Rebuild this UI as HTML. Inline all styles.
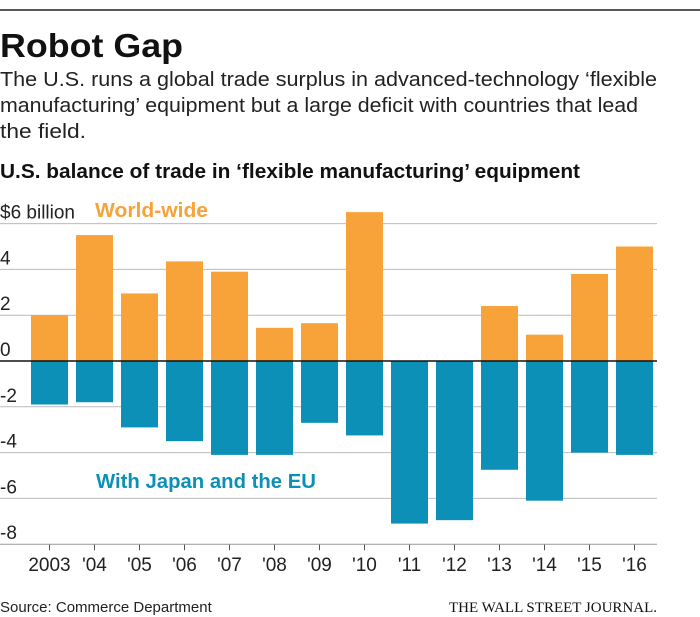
<!DOCTYPE html>
<html><head><meta charset="utf-8"><style>
body{margin:0;background:#fff;font-family:"Liberation Sans",sans-serif;}
#wrap{position:relative;width:700px;height:617px;overflow:hidden;}
</style></head><body>
<div id="wrap">
<svg id="svg" width="700" height="617" xmlns="http://www.w3.org/2000/svg">
<line x1="0" y1="10" x2="700" y2="10" stroke="#222" stroke-width="1.5"/>
<text x="0" y="57" font-size="33" font-weight="bold" fill="#111" textLength="183" lengthAdjust="spacingAndGlyphs">Robot Gap</text>
<text font-size="20" fill="#222"><tspan x="0" y="86" textLength="657" lengthAdjust="spacingAndGlyphs">The U.S. runs a global trade surplus in advanced-technology ‘flexible</tspan><tspan x="0" y="112" textLength="638" lengthAdjust="spacingAndGlyphs">manufacturing’ equipment but a large deficit with countries that lead</tspan><tspan x="0" y="138" textLength="86" lengthAdjust="spacingAndGlyphs">the field.</tspan></text>
<text x="0" y="178" font-size="20" font-weight="bold" fill="#111" textLength="580" lengthAdjust="spacingAndGlyphs">U.S. balance of trade in ‘flexible manufacturing’ equipment</text>
<g id="grid"></g><g id="bars"></g><g id="axis"></g>
<text x="95" y="217" font-size="20" font-weight="bold" fill="#f7a33a" textLength="113" lengthAdjust="spacingAndGlyphs">World-wide</text>
<text x="96" y="488" font-size="20" font-weight="bold" fill="#0d90b7" textLength="220" lengthAdjust="spacingAndGlyphs">With Japan and the EU</text>
<text x="0" y="612" font-size="15" fill="#222">Source: Commerce Department</text>
<text x="657" y="612" font-size="15" font-family="Liberation Serif,serif" fill="#111" text-anchor="end">THE WALL STREET JOURNAL.</text>
</svg></div>
<script>
const categories=["2003","'04","'05","'06","'07","'08","'09","'10","'11","'12","'13","'14","'15","'16"];
const worldWide=[2.0,5.5,2.95,4.35,3.9,1.45,1.65,6.5,0,0,2.4,1.15,3.8,5.0];
const japanEU=[-1.9,-1.8,-2.9,-3.5,-4.1,-4.1,-2.7,-3.25,-7.1,-6.95,-4.75,-6.1,-4.0,-4.1];
const yTicks=[6,4,2,0,-2,-4,-6,-8];
const yTickLabels=["$6 billion","4","2","0","-2","-4","-6","-8"];
const NS="http://www.w3.org/2000/svg";
const y=v=>361-v*22.9;
const x=i=>31+i*45;
const BW=37;
function mk(tag,attrs,parent){const e=document.createElementNS(NS,tag);for(const k in attrs)e.setAttribute(k,attrs[k]);parent.appendChild(e);return e;}
const grid=document.getElementById('grid'),bars=document.getElementById('bars'),axis=document.getElementById('axis');
yTicks.forEach((t,i)=>{
 if(t!==0&&t!==-8){const l=mk('line',{x1:0,x2:657,y1:y(t),y2:y(t),stroke:'#bbb','stroke-width':1},grid);
 
 }
 const tx=mk('text',{x:0,y:y(t)-5,'font-size':19,fill:'#222'},grid);tx.textContent=yTickLabels[i];
 
 
});
categories.forEach((c,i)=>{
 const h1=Math.abs(y(worldWide[i])-y(0));
 const r1=mk('rect',{x:x(i),y:Math.min(y(worldWide[i]),y(0)),width:BW,height:h1,fill:'#f7a33a'},bars);
 
 
 const h2=Math.abs(y(japanEU[i])-y(0));
 const r2=mk('rect',{x:x(i),y:y(0),width:BW,height:h2,fill:'#0d90b7'},bars);
 
 
 const tk=mk('line',{x1:x(i)+BW/2,x2:x(i)+BW/2,y1:y(-8),y2:y(-8)+6,stroke:'#555','stroke-width':1},axis);
 
 
 const lb=mk('text',{x:x(i)+BW/2,y:571,'font-size':19,fill:'#222','text-anchor':'middle'},axis);lb.textContent=c;
 
 
});
const z=mk('line',{x1:0,x2:657,y1:y(0),y2:y(0),stroke:'#111','stroke-width':1.5},axis);


const b=mk('line',{x1:0,x2:657,y1:y(-8),y2:y(-8),stroke:'#999','stroke-width':1},axis);


</script>
</body></html>
